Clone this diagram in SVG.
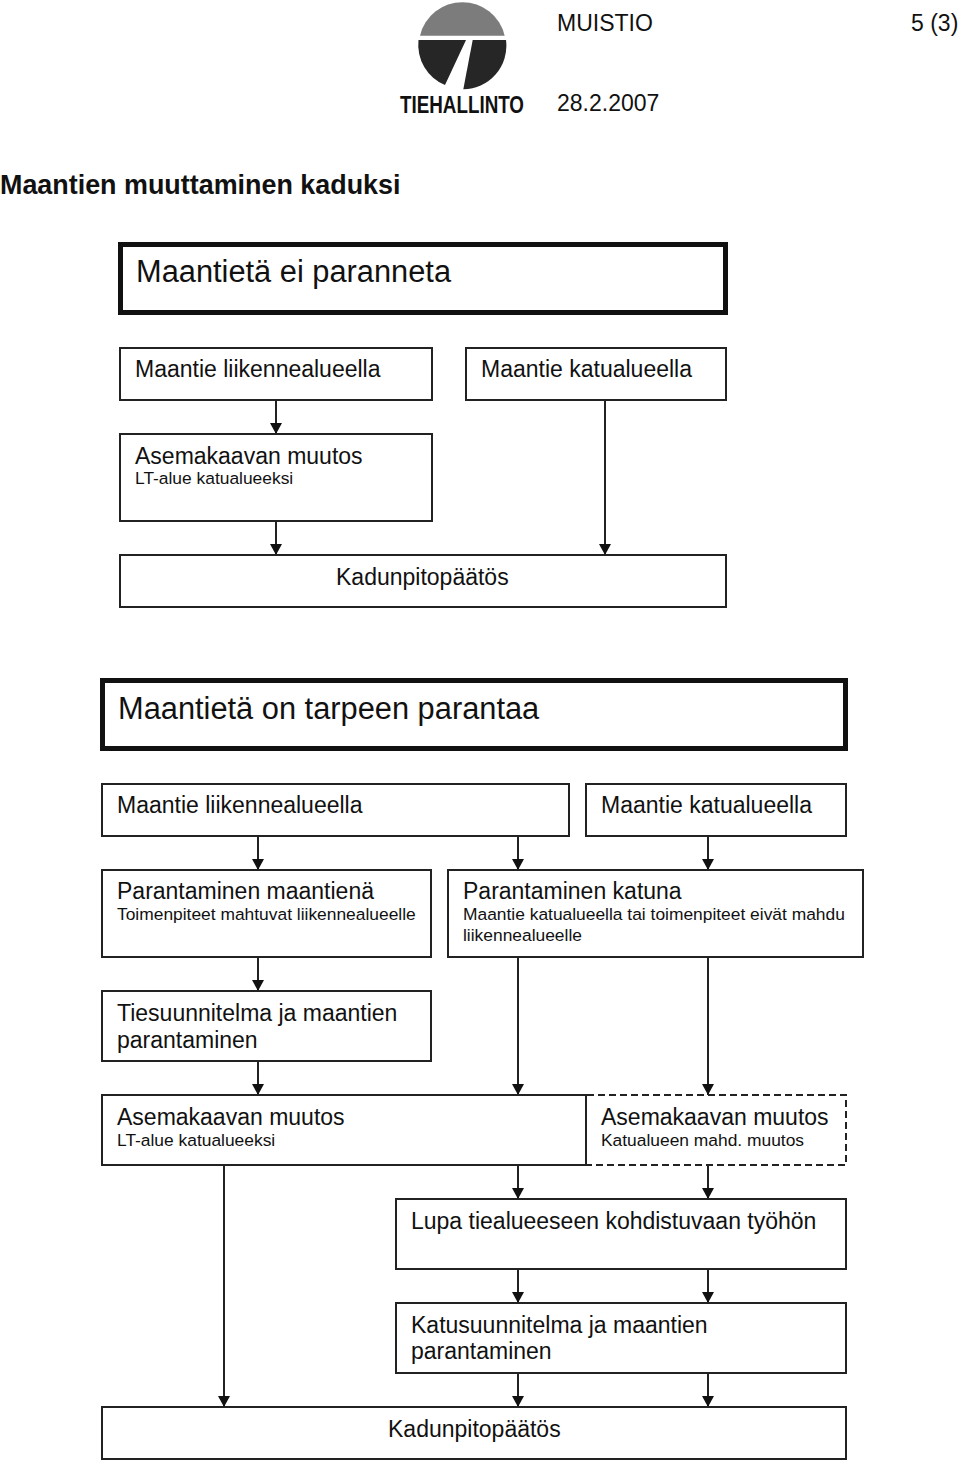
<svg xmlns="http://www.w3.org/2000/svg" width="960" height="1462" viewBox="0 0 960 1462">
<style>
text{font-family:"Liberation Sans",Arial,sans-serif;fill:#111}
.m{font-size:23px}.s{font-size:17.4px}.h{font-size:30.800px}
.b{fill:#fff;stroke:#222;stroke-width:2}
.t{fill:#fff;stroke:#111;stroke-width:5}
.c{fill:none;stroke:#222;stroke-width:2;marker-end:url(#a)}
</style>
<defs><marker id="a" markerUnits="userSpaceOnUse" markerWidth="12" markerHeight="12" refX="11" refY="6" orient="auto" viewBox="0 0 12 12"><path d="M0 0L11 6L0 12Z" fill="#111"/></marker></defs>
<rect width="960" height="1462" fill="#fff"/>
<g id="header">
<path d="M420 35.7A43.5 43.5 0 0 1 504.7 35.7Z" fill="#7c7c7c"/>
<path d="M418.500 40L466 40L445 85A43.5 43.5 0 0 1 418.500 40Z" fill="#262626"/>
<path d="M472.7 40L506 40A43.5 43.5 0 0 1 463.3 89.3Z" fill="#262626"/>
<text x="400" y="113" font-size="23" font-weight="700" textLength="124" lengthAdjust="spacingAndGlyphs" fill="#222">TIEHALLINTO</text>
<text x="557" y="31" class="m">MUISTIO</text>
<text x="911" y="31" class="m">5 (3)</text>
<text x="557" y="111" class="m">28.2.2007</text>
<text x="0" y="194" font-size="26.9" font-weight="700">Maantien muuttaminen kaduksi</text>
</g>
<g id="connectors">
<path class="c" d="M276 400V434"/>
<path class="c" d="M605 400V555"/>
<path class="c" d="M276 521V555"/>
<path class="c" d="M258 836V870"/>
<path class="c" d="M518 836V870"/>
<path class="c" d="M708 836V870"/>
<path class="c" d="M258 957V991"/>
<path class="c" d="M518 957V1095"/>
<path class="c" d="M708 957V1095"/>
<path class="c" d="M258 1061V1095"/>
<path class="c" d="M224 1165V1407"/>
<path class="c" d="M518 1165V1199"/>
<path class="c" d="M708 1165V1199"/>
<path class="c" d="M518 1269V1303"/>
<path class="c" d="M708 1269V1303"/>
<path class="c" d="M518 1373V1407"/>
<path class="c" d="M708 1373V1407"/>
</g>
<g id="n1"><rect class="t" x="120.500" y="244.500" width="605" height="68"/><text class="h" x="136" y="282">Maantietä ei paranneta</text></g>
<g id="n2"><rect class="b" x="120" y="348" width="312" height="52"/><text class="m" x="135" y="377">Maantie liikennealueella</text></g>
<g id="n3"><rect class="b" x="466" y="348" width="260" height="52"/><text class="m" x="481" y="377">Maantie katualueella</text></g>
<g id="n4"><rect class="b" x="120" y="434" width="312" height="87"/><text class="m" x="135" y="464">Asemakaavan muutos</text><text class="s" x="135" y="484">LT-alue katualueeksi</text></g>
<g id="n5"><rect class="b" x="120" y="555" width="606" height="52"/><text class="m" x="336" y="585">Kadunpitopäätös</text></g>
<g id="n6"><rect class="t" x="102.500" y="680.500" width="743" height="68"/><text class="h" x="118" y="719">Maantietä on tarpeen parantaa</text></g>
<g id="n7"><rect class="b" x="102" y="784" width="467" height="52"/><text class="m" x="117" y="813">Maantie liikennealueella</text></g>
<g id="n8"><rect class="b" x="586" y="784" width="260" height="52"/><text class="m" x="601" y="813">Maantie katualueella</text></g>
<g id="n9"><rect class="b" x="102" y="870" width="329" height="87"/><text class="m" x="117" y="899">Parantaminen maantienä</text><text class="s" x="117" y="920">Toimenpiteet mahtuvat liikennealueelle</text></g>
<g id="n10"><rect class="b" x="448" y="870" width="415" height="87"/><text class="m" x="463" y="899">Parantaminen katuna</text><text class="s" x="463" y="920">Maantie katualueella tai toimenpiteet eivät mahdu</text><text class="s" x="463" y="941">liikennealueelle</text></g>
<g id="n11"><rect class="b" x="102" y="991" width="329" height="70"/><text class="m" x="117" y="1021">Tiesuunnitelma ja maantien</text><text class="m" x="117" y="1048">parantaminen</text></g>
<g id="n12"><rect class="b" x="102" y="1095" width="484" height="70"/><text class="m" x="117" y="1125">Asemakaavan muutos</text><text class="s" x="117" y="1146">LT-alue katualueeksi</text></g>
<g id="n13"><path d="M587 1095H846V1165H587" fill="#fff" stroke="#222" stroke-width="2" stroke-dasharray="7 4"/><text class="m" x="601" y="1125">Asemakaavan muutos</text><text class="s" x="601" y="1146">Katualueen mahd. muutos</text></g>
<g id="n14"><rect class="b" x="396" y="1199" width="450" height="70"/><text class="m" x="411" y="1229">Lupa tiealueeseen kohdistuvaan työhön</text></g>
<g id="n15"><rect class="b" x="396" y="1303" width="450" height="70"/><text class="m" x="411" y="1333">Katusuunnitelma ja maantien</text><text class="m" x="411" y="1359">parantaminen</text></g>
<g id="n16"><rect class="b" x="102" y="1407" width="744" height="52"/><text class="m" x="388" y="1437">Kadunpitopäätös</text></g>
</svg>
